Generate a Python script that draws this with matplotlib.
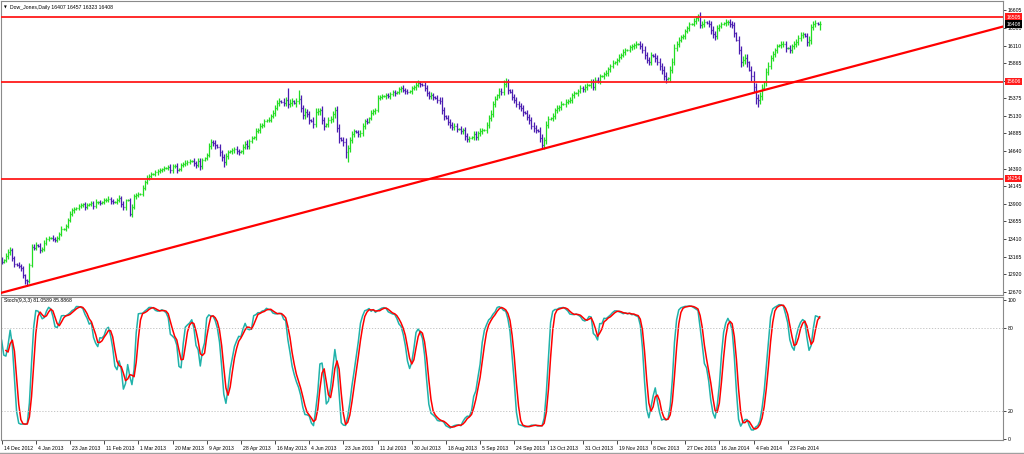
"""Dow Jones daily bars with Stochastic(9,3,3), MetaTrader style."""
import matplotlib
matplotlib.use("Agg")
import matplotlib.pyplot as plt
import numpy as np
import pandas as pd
from matplotlib.lines import Line2D
from matplotlib.transforms import ScaledTranslation, blended_transform_factory

# bars before the first visible one, only used to warm up the oscillator
warmup_close = [12925, 12912, 12994, 13034, 13115, 13120, 13130, 13208, 13205, 13131]
warmup_hi_ext = [40, 30, 45, 35, 40, 10, 35, 40, 30, 45]
warmup_lo_ext = [45, 35, 30, 40, 35, 10, 30, 35, 40, 35]

close = [
    13090, 13118, 13173, 13229, 13257, 13146, 13062, 13048, 13034, 13006, 12908, 12839, 12825, 13048, 13299, 13285,
    13327, 13313, 13257, 13271, 13355, 13411, 13425, 13425, 13411, 13397, 13425, 13480, 13550, 13550, 13592, 13676,
    13760, 13815, 13829, 13843, 13871, 13885, 13899, 13857, 13885, 13899, 13913, 13871, 13927, 13927, 13913, 13927,
    13955, 13955, 13969, 13941, 13927, 13927, 13955, 13983, 13900, 13857, 13955, 13955, 13760, 13857, 14010, 14024,
    14038, 14038, 14122, 14206, 14262, 14290, 14318, 14318, 14345, 14359, 14373, 14387, 14401, 14401, 14415, 14373,
    14429, 14429, 14373, 14387, 14443, 14457, 14471, 14485, 14499, 14499, 14471, 14443, 14499, 14429, 14513, 14541,
    14582, 14708, 14764, 14750, 14722, 14694, 14624, 14555, 14485, 14568, 14624, 14638, 14652, 14666, 14638, 14624,
    14638, 14694, 14736, 14708, 14778, 14819, 14833, 14917, 14931, 14987, 15001, 15057, 15071, 15071, 15126, 15168,
    15238, 15308, 15336, 15322, 15308, 15350, 15294, 15308, 15336, 15308, 15336, 15364, 15238, 15140, 15182, 15154,
    15071, 15057, 15015, 15182, 15196, 15210, 15071, 14987, 15015, 15071, 15085, 15154, 15210, 14959, 14819, 14792,
    14764, 14624, 14680, 14792, 14875, 14917, 14903, 14875, 14889, 14987, 15057, 15043, 15099, 15168, 15196, 15210,
    15378, 15392, 15405, 15405, 15419, 15405, 15433, 15461, 15447, 15461, 15503, 15517, 15489, 15475, 15461, 15475,
    15517, 15531, 15559, 15587, 15573, 15559, 15517, 15447, 15405, 15419, 15392, 15378, 15350, 15336, 15210, 15126,
    15099, 15043, 15001, 14973, 14987, 14945, 14945, 14917, 14931, 14847, 14805, 14819, 14833, 14875, 14833, 14889,
    14917, 14931, 14931, 15001, 15099, 15154, 15294, 15364, 15419, 15475, 15461, 15573, 15601, 15489, 15461, 15392,
    15350, 15294, 15266, 15238, 15182, 15168, 15112, 15071, 14987, 14959, 14931, 14917, 14819, 14722, 14792, 15001,
    15085, 15099, 15126, 15210, 15238, 15252, 15294, 15294, 15322, 15336, 15350, 15419, 15447, 15447, 15475, 15517,
    15503, 15531, 15559, 15559, 15601, 15531, 15629, 15615, 15684, 15684, 15712, 15726, 15782, 15824, 15866, 15880,
    15908, 15950, 15977, 16019, 16047, 16047, 16089, 16103, 16117, 16131, 16131, 16103, 16047, 15977, 15908, 15880,
    15977, 15963, 15936, 15880, 15824, 15768, 15684, 15643, 15657, 15768, 15880, 16075, 16131, 16187, 16228, 16242,
    16312, 16354, 16410, 16410, 16452, 16493, 16521, 16396, 16410, 16438, 16424, 16410, 16326, 16270, 16242, 16354,
    16382, 16410, 16424, 16438, 16438, 16410, 16396, 16284, 16187, 16047, 15880, 15908, 15936, 15880, 15768, 15684,
    15531, 15378, 15350, 15405, 15517, 15601, 15740, 15824, 15936, 15991, 16047, 16103, 16117, 16131, 16131, 16075,
    16075, 16047, 16103, 16131, 16159, 16215, 16256, 16270, 16242, 16159, 16187, 16368, 16410, 16424, 16407, 16408,
]

# distance from the bar body to the high / low, in points
hi_ext = [
    30, 10, 45, 35, 40, 25, 30, 10, 35, 25, 30, 20, 8, 30, 40, 45,
    35, 10, 40, 30, 35, 25, 30, 8, 35, 30, 25, 30, 35, 8, 30, 25,
    40, 30, 25, 8, 30, 25, 20, 30, 25, 8, 30, 25, 35, 20, 30, 8,
    30, 25, 35, 30, 25, 8, 30, 35, 25, 40, 20, 8, 30, 45, 35, 30,
    35, 8, 40, 30, 35, 25, 30, 8, 35, 25, 30, 20, 25, 8, 30, 35,
    25, 30, 35, 8, 30, 25, 35, 30, 25, 8, 40, 30, 35, 45, 30, 8,
    35, 40, 45, 30, 35, 8, 40, 35, 45, 40, 35, 8, 30, 25, 35, 30,
    8, 40, 35, 50, 30, 35, 8, 40, 30, 35, 25, 30, 8, 35, 30, 40,
    45, 40, 35, 8, 60, 40, 167, 50, 45, 8, 40, 125, 55, 45, 50, 40,
    45, 8, 50, 55, 40, 35, 60, 45, 8, 40, 35, 45, 40, 50, 55, 10,
    45, 50, 40, 35, 40, 30, 8, 35, 40, 35, 30, 35, 8, 40, 30, 35,
    40, 30, 25, 8, 30, 35, 25, 30, 25, 8, 35, 30, 40, 25, 30, 8,
    30, 25, 35, 40, 30, 8, 40, 45, 35, 40, 35, 8, 45, 40, 50, 45,
    10, 40, 45, 35, 40, 35, 8, 40, 35, 45, 40, 35, 8, 40, 45, 35,
    40, 35, 8, 45, 40, 50, 45, 40, 8, 40, 45, 50, 55, 45, 8, 40,
    45, 40, 35, 40, 45, 8, 40, 45, 40, 50, 45, 8, 50, 55, 45, 50,
    45, 8, 40, 35, 40, 30, 35, 8, 35, 30, 40, 35, 30, 8, 35, 40,
    35, 40, 30, 8, 40, 45, 35, 40, 35, 8, 30, 40, 35, 30, 35, 8,
    30, 35, 30, 40, 35, 8, 30, 35, 30, 35, 8, 40, 45, 50, 40, 45,
    40, 8, 45, 40, 50, 45, 55, 50, 8, 60, 55, 50, 40, 35, 30, 35,
    30, 35, 30, 8, 35, 30, 30, 50, 40, 35, 8, 40, 45, 50, 45, 40,
    35, 30, 8, 35, 30, 40, 35, 45, 10, 50, 55, 60, 50, 55, 8, 60,
    70, 60, 55, 50, 60, 10, 55, 50, 45, 40, 35, 30, 8, 35, 40, 45,
    10, 40, 35, 40, 35, 45, 40, 35, 10, 45, 50, 45, 40, 35, 10, 49,
]
lo_ext = [
    35, 10, 30, 40, 35, 45, 40, 10, 30, 40, 45, 50, 69, 35, 30, 35,
    30, 8, 45, 35, 30, 35, 30, 8, 30, 35, 30, 25, 30, 8, 25, 30,
    25, 30, 35, 8, 30, 35, 30, 40, 30, 8, 35, 40, 30, 35, 30, 8,
    30, 35, 30, 40, 35, 8, 30, 25, 40, 45, 40, 8, 30, 40, 30, 35,
    30, 8, 25, 30, 35, 30, 25, 8, 30, 35, 30, 25, 30, 8, 30, 35,
    35, 30, 40, 8, 30, 35, 30, 25, 30, 8, 40, 45, 35, 50, 40, 8,
    35, 30, 40, 45, 50, 8, 55, 60, 70, 45, 40, 8, 35, 40, 35, 40,
    8, 35, 30, 40, 35, 30, 8, 35, 30, 35, 30, 25, 8, 30, 35, 30,
    35, 30, 40, 8, 45, 40, 55, 45, 40, 8, 50, 45, 60, 55, 50, 45,
    50, 8, 55, 45, 40, 50, 60, 55, 8, 45, 40, 45, 50, 60, 65, 10,
    55, 80, 139, 50, 45, 40, 8, 45, 40, 35, 40, 35, 8, 35, 30, 35,
    30, 35, 30, 8, 35, 30, 35, 30, 35, 8, 30, 35, 30, 35, 30, 8,
    35, 30, 35, 30, 40, 8, 40, 45, 40, 35, 45, 8, 40, 45, 55, 50,
    10, 45, 40, 45, 40, 45, 8, 40, 45, 50, 45, 40, 8, 45, 40, 45,
    40, 45, 8, 40, 45, 40, 45, 40, 8, 45, 40, 35, 40, 50, 8, 45,
    40, 45, 40, 45, 50, 8, 45, 50, 45, 50, 45, 8, 55, 56, 60, 50,
    40, 8, 45, 40, 35, 40, 35, 8, 40, 35, 30, 40, 35, 8, 35, 30,
    40, 35, 40, 8, 35, 45, 40, 35, 40, 8, 35, 30, 40, 35, 30, 8,
    35, 30, 35, 30, 35, 8, 30, 35, 40, 35, 8, 40, 45, 50, 45, 40,
    45, 8, 50, 45, 55, 50, 60, 55, 8, 50, 45, 40, 35, 40, 35, 30,
    35, 30, 35, 8, 30, 35, 40, 45, 40, 35, 8, 40, 50, 55, 50, 40,
    35, 30, 8, 35, 40, 35, 45, 50, 10, 60, 65, 55, 60, 65, 8, 70,
    75, 80, 98, 60, 55, 10, 50, 45, 40, 45, 40, 35, 8, 40, 45, 50,
    10, 45, 40, 35, 40, 35, 40, 45, 10, 50, 55, 50, 45, 40, 10, 84,
]

date_labels = [
    "14 Dec 2012", "4 Jan 2013", "23 Jan 2013", "11 Feb 2013", "1 Mar 2013", "20 Mar 2013",
    "9 Apr 2013", "28 Apr 2013", "16 May 2013", "4 Jun 2013", "23 Jun 2013", "11 Jul 2013",
    "30 Jul 2013", "18 Aug 2013", "5 Sep 2013", "24 Sep 2013", "13 Oct 2013", "31 Oct 2013",
    "19 Nov 2013", "8 Dec 2013", "27 Dec 2013", "16 Jan 2014", "4 Feb 2014", "23 Feb 2014",
]
bars_per_label = 16

price_ticks = [16605, 16360, 16110, 15865, 15620, 15375, 15130, 14885, 14640,
               14390, 14145, 13900, 13655, 13410, 13165, 12920, 12670]
level_prices = [16505, 15606, 14254]
trend_bars = [12, 253]
trend_prices = [12756, 14665]
last_price = 16408
stoch_levels = [20, 80]
stoch_ticks = [0, 20, 80, 100]

title_text = "Dow_Jones,Daily 16407 16457 16323 16408"
stoch_text = "Stoch(9,3,3) 81.0589 85.8868"

UP = "#22dd22"
DOWN = "#4a1cb0"
GREY = "#8a8a8a"
FONT = "Liberation Sans"
FS = 3.7

# ---- assemble OHLC ---------------------------------------------------------
closes = np.array(warmup_close + close, dtype=float)
opens = np.concatenate([[closes[0]], closes[:-1]])
highs = np.maximum(opens, closes) + np.array(warmup_hi_ext + hi_ext)
lows = np.minimum(opens, closes) - np.array(warmup_lo_ext + lo_ext)
idx = np.arange(len(closes)) - len(warmup_close)

# Stochastic(9,3,3), MT4 flavour
hh = pd.Series(highs).rolling(9).max()
ll = pd.Series(lows).rolling(9).min()
k_main = 100 * (pd.Series(closes) - ll).rolling(3).sum() / (hh - ll).rolling(3).sum()
k_signal = k_main.rolling(3).mean()

# ---- figure ---------------------------------------------------------------
W, H = 1024, 454
fig = plt.figure(figsize=(W / 100, H / 100), dpi=100)
fig.patch.set_facecolor("white")


def px_axes(x0, y0, x1, y1):
    return fig.add_axes([x0 / W, 1 - y1 / H, (x1 - x0) / W, (y1 - y0) / H])


ax = px_axes(1, 1, 1003, 295)
sx = px_axes(1, 297, 1003, 440)
x_lim = (-0.3, 468.8)

# price bars
up = closes >= opens
for mask, colour in ((up, UP), (~up, DOWN)):
    ax.vlines(idx[mask], lows[mask], highs[mask], color=colour, lw=0.9)
    ax.hlines(opens[mask], idx[mask] - 0.45, idx[mask], color=colour, lw=0.9)
    ax.hlines(closes[mask], idx[mask], idx[mask] + 0.45, color=colour, lw=0.9)

for level in level_prices:
    ax.axhline(level, color="#ff1a1a", lw=1.3, zorder=3)

slope = (trend_prices[1] - trend_prices[0]) / (trend_bars[1] - trend_bars[0])
tx = np.array([x_lim[0], x_lim[1]])
ax.plot(tx, trend_prices[0] + slope * (tx - trend_bars[0]), color="#ff0000", lw=1.6, zorder=3)

ax.set_xlim(*x_lim)
ax.set_ylim(12629, 16731)
ax.set_xticks([])
ax.yaxis.tick_right()
ax.set_yticks(price_ticks)
ax.set_yticklabels([str(p) for p in price_ticks], fontsize=FS, family=FONT)
ax.tick_params(axis="y", length=2, width=0.5, pad=1.2, colors="black")

# right-hand price tags
tag = blended_transform_factory(ax.transAxes, ax.transData)
for level in level_prices:
    ax.text(1.0035, level, str(level), transform=tag, fontsize=FS, family=FONT, color="white",
            va="center", ha="left", zorder=5,
            bbox=dict(boxstyle="square,pad=0.25", fc="#ff1a1a", ec="none"))
ax.text(1.0035, last_price, str(last_price), transform=tag, fontsize=FS, family=FONT, color="white",
        va="center", ha="left", zorder=6,
        bbox=dict(boxstyle="square,pad=0.25", fc="black", ec="none"))

# stochastic panel
sx.plot(idx, k_main, color="#20b2aa", lw=1.1)
sx.plot(idx, k_signal, color="#ff0000", lw=1.1)
for level in stoch_levels:
    sx.axhline(level, color="#bdbdbd", lw=0.6, ls=(0, (1.5, 2)))
sx.set_xlim(*x_lim)
sx.set_ylim(-0.7, 102.2)
sx.yaxis.tick_right()
sx.set_yticks(stoch_ticks)
sx.set_yticklabels([str(t) for t in stoch_ticks], fontsize=FS, family=FONT)
sx.tick_params(axis="y", length=2, width=0.5, pad=1.2)

tick_pos = np.arange(len(date_labels)) * bars_per_label
sx.set_xticks(tick_pos)
sx.set_xticklabels(date_labels, fontsize=FS, family=FONT, ha="left")
sx.tick_params(axis="x", length=3, width=0.5, pad=1.5)
shift = ScaledTranslation(2 / 100, 0, fig.dpi_scale_trans)
for label in sx.get_xticklabels():
    label.set_transform(label.get_transform() + shift)

for a in (ax, sx):
    for spine in a.spines.values():
        spine.set_color(GREY)
        spine.set_linewidth(0.8)

# panel captions
fig.text(4 / W, 1 - 7.5 / H, "\u25bc", fontsize=2.6, family="DejaVu Sans", va="center")
fig.text(10 / W, 1 - 7.5 / H, title_text, fontsize=FS, family=FONT, va="center")
fig.text(4 / W, 1 - 300.5 / H, stoch_text, fontsize=FS, family=FONT, va="center")

fig.add_artist(Line2D([0, 1], [1 - 452.5 / H] * 2, color="#a0a0a0", lw=1.0))

fig.savefig("out.png", dpi=100)
